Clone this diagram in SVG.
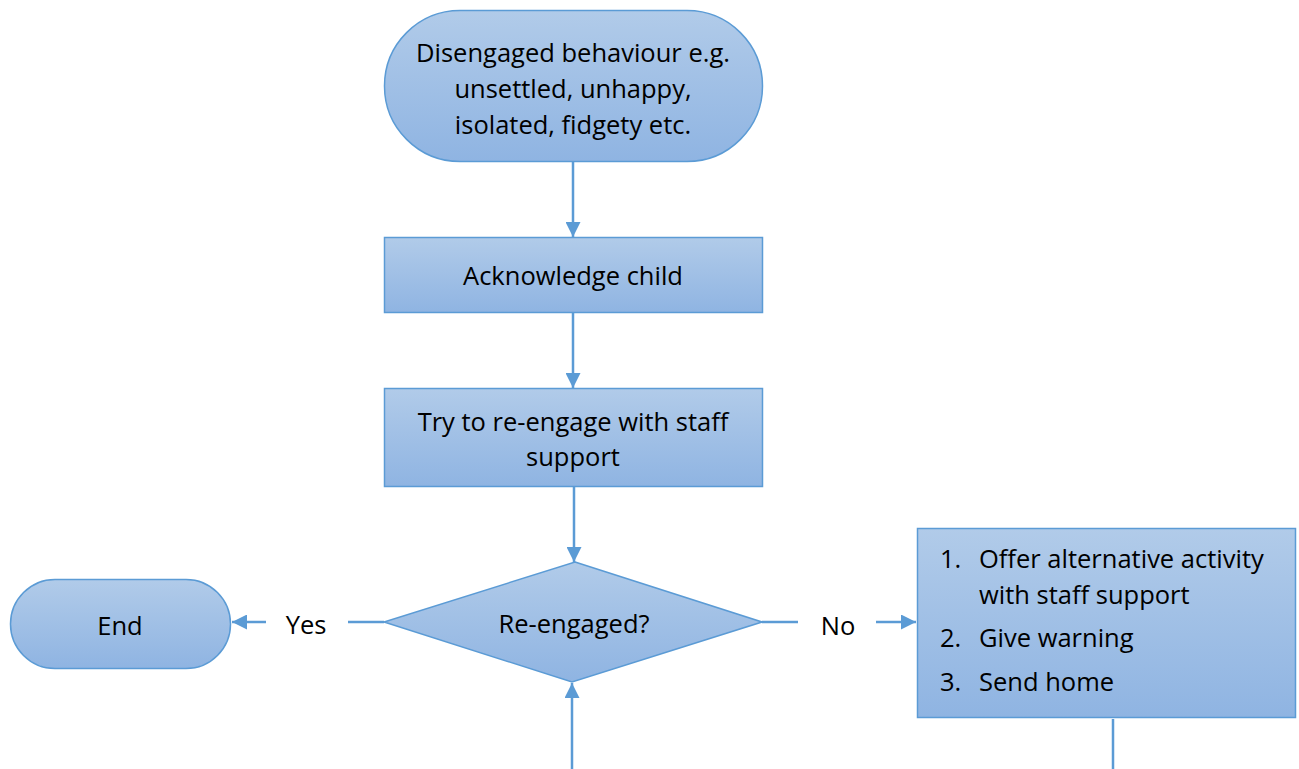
<svg xmlns="http://www.w3.org/2000/svg" width="1299" height="769" viewBox="0 0 1299 769">
<defs>
<linearGradient id="g" x1="0" y1="0" x2="0" y2="1">
<stop offset="0" stop-color="#b1cbe9"/>
<stop offset="1" stop-color="#8fb4e2"/>
</linearGradient>
<marker id="ah" viewBox="0 0 10 10" refX="10" refY="5" markerWidth="15" markerHeight="15" markerUnits="userSpaceOnUse" orient="auto">
<path d="M0,0 L10,5 L0,10 z" fill="#5b9bd5"/>
</marker>
</defs>
<style>
.shape{fill:url(#g);stroke:#5b9bd5;stroke-width:1.5}
.t{font-family:"Open Sans","Noto Sans",sans-serif;font-size:25.5px;fill:#000;text-anchor:middle}
.tl{font-family:"Open Sans","Noto Sans",sans-serif;font-size:25.5px;fill:#000}
.c{stroke:#5b9bd5;stroke-width:2.5;fill:none}
</style>
<rect width="1299" height="769" fill="#fff"/>
<g id="connectors">
<line class="c" x1="573" y1="161" x2="573" y2="237" marker-end="url(#ah)"/>
<line class="c" x1="573" y1="313" x2="573" y2="388" marker-end="url(#ah)"/>
<line class="c" x1="574" y1="487" x2="574" y2="562" marker-end="url(#ah)"/>
<line class="c" x1="384" y1="622" x2="348" y2="622"/>
<line class="c" x1="266" y1="622" x2="232" y2="622" marker-end="url(#ah)"/>
<line class="c" x1="762" y1="622" x2="798" y2="622"/>
<line class="c" x1="876" y1="622" x2="916" y2="622" marker-end="url(#ah)"/>
<line class="c" x1="572" y1="769" x2="572" y2="683" marker-end="url(#ah)"/>
<line class="c" x1="1113" y1="719" x2="1113" y2="769"/>
<text class="t" x="306" y="634">Yes</text>
<text class="t" x="838" y="635">No</text>
</g>
<g id="start">
<rect class="shape" x="384.5" y="10.5" width="378" height="151" rx="75.5" ry="75.5"/>
<text class="t" x="573" y="62">Disengaged behaviour e.g.</text>
<text class="t" x="573" y="98">unsettled, unhappy,</text>
<text class="t" x="573" y="134">isolated, fidgety etc.</text>
</g>
<g id="acknowledge">
<rect class="shape" x="384.5" y="237.5" width="378" height="75"/>
<text class="t" x="573" y="285">Acknowledge child</text>
</g>
<g id="reengage">
<rect class="shape" x="384.5" y="388.5" width="378" height="98"/>
<text class="t" x="573" y="431">Try to re-engage with staff</text>
<text class="t" x="573" y="466">support</text>
</g>
<g id="decision">
<polygon class="shape" points="575,562 762,622 572,682 384,622"/>
<text class="t" x="574" y="633">Re-engaged?</text>
</g>
<g id="end">
<rect class="shape" x="10.5" y="579.5" width="220" height="89" rx="44.5" ry="44.5"/>
<text class="t" x="120" y="635">End</text>
</g>
<g id="actions">
<rect class="shape" x="917.5" y="528.5" width="378" height="189"/>
<text class="tl" x="940" y="568">1.</text>
<text class="tl" x="979" y="568">Offer alternative activity</text>
<text class="tl" x="979" y="604">with staff support</text>
<text class="tl" x="940" y="647">2.</text>
<text class="tl" x="979" y="647">Give warning</text>
<text class="tl" x="940" y="691">3.</text>
<text class="tl" x="979" y="691">Send home</text>
</g>
</svg>
